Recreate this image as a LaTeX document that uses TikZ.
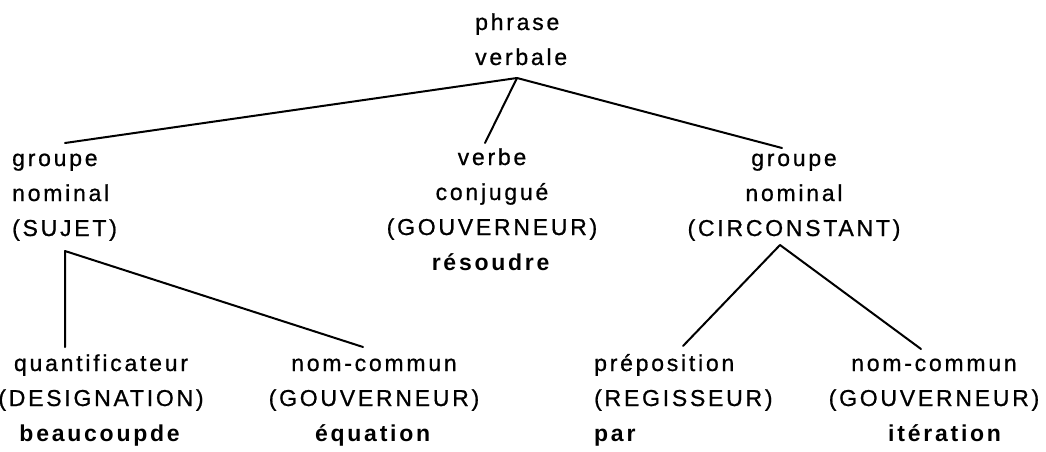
\documentclass[tikz,border=0pt]{standalone}
\usepackage{fontspec}
\setmainfont[LetterSpace=12, UprightFeatures={FakeBold=0.8}]{Liberation Sans}
\usetikzlibrary{positioning}

\tikzset{
  word/.style={inner sep=0pt, anchor=base, align=center, font=\fontsize{23}{35}\selectfont},
  branch/.style={line width=2pt, line cap=round, line join=round}
}

\begin{document}
\begin{tikzpicture}[x=1pt,y=1pt,yscale=-1]
\useasboundingbox (0,0) rectangle (1046,452);

% Text Node (base = last line)
\node (pv) [word, anchor=base west, align=left] at (475,65) {phrase\\verbale};
% Text Node
\node (gnS) [word, anchor=base west, align=left] at (12,236) {groupe\\nominal\\(SUJET)};
% Text Node
\node (vc) [word] at (492,270) {verbe\\conjugué\\(GOUVERNEUR)\\\textbf{résoudre}};
% Text Node
\node (gnC) [word] at (794,236) {groupe\\nominal\\(CIRCONSTANT)};
% Text Node
\node (qt) [word] at (101,441) {quantificateur\\(DESIGNATION)\\\textbf{beaucoupde}};
% Text Node
\node (ncA) [word] at (374,441) {nom-commun\\(GOUVERNEUR)\\\textbf{équation}};
% Text Node
\node (prep) [word, anchor=base west, align=left] at (594,441) {préposition\\(REGISSEUR)\\\textbf{par}};
% Text Node
\node (ncB) [word] at (934,441) {nom-commun\\(GOUVERNEUR)\\\hspace*{24pt}\textbf{itération}};

% Branch points
\coordinate (pvJ) at (517,78);
\coordinate (gnSJ) at (65,251);
\coordinate (gnCJ) at (780,245);
% Line ends
\coordinate (gnSE) at (65,143);
\coordinate (vcE) at (485,143);
\coordinate (gnCE) at (782,148);
\coordinate (qtE) at (65,347);
\coordinate (ncAE) at (363,347);
\coordinate (prepE) at (683,346);
\coordinate (ncBE) at (921,349);

%Straight Lines
\draw [branch] (gnSE) -- (pvJ) -- (gnCE);
\draw [branch] (pvJ) -- (vcE);
%Straight Lines
\draw [branch] (qtE) -- (gnSJ) -- (ncAE);
%Straight Lines
\draw [branch] (prepE) -- (gnCJ) -- (ncBE);

\end{tikzpicture}
\end{document}
